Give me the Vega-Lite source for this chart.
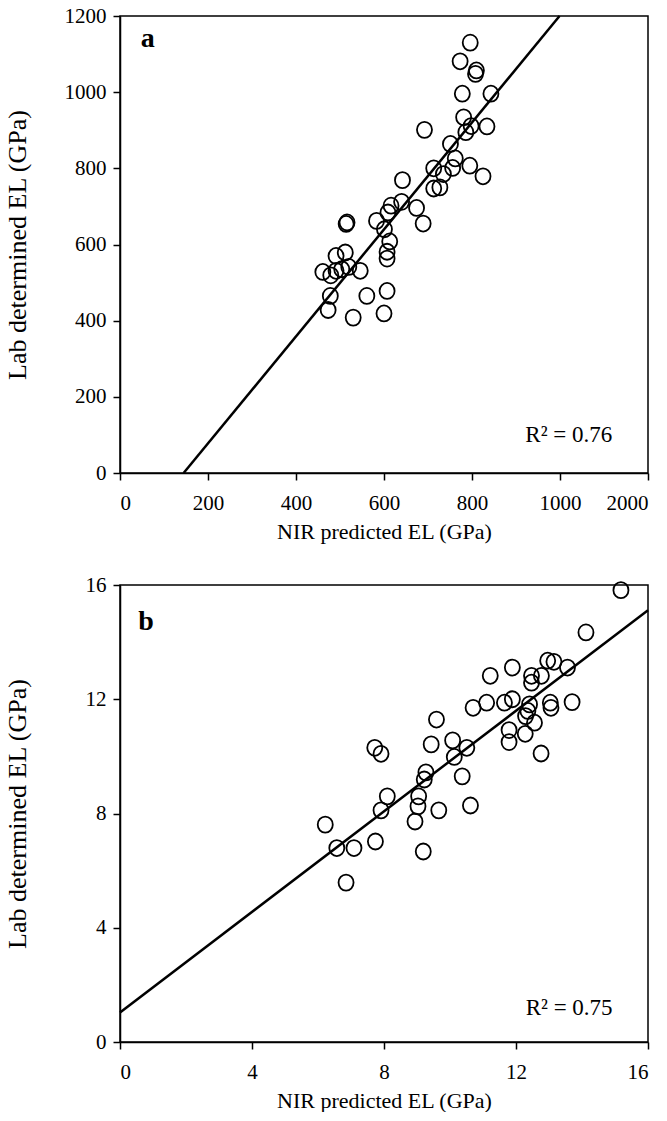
{
  "$schema": "https://vega.github.io/schema/vega-lite/v6.json",
  "padding": {"left": 3, "top": 4, "right": 0, "bottom": 0},
  "background": "white",
  "spacing": 30,
  "config": {
    "font": "Liberation Serif",
    "view": {"stroke": "black", "strokeWidth": 1.5},
    "axis": {
      "grid": false,
      "domainColor": "black", "domainWidth": 1.5,
      "tickColor": "black", "tickWidth": 1.5, "tickSize": 7,
      "labelColor": "black", "labelFont": "Liberation Serif", "labelFontSize": 21,
      "titleColor": "black", "titleFont": "Liberation Serif", "titleFontSize": 22, "titleFontWeight": "normal"
    },
    "axisX": {"labelPadding": 12, "titlePadding": 8},
    "axisY": {"labelPadding": 7, "titleX": -90, "titleFontSize": 26}
  },
  "vconcat": [
    {
      "width": 528,
      "height": 457,
      "layer": [
        {
          "data": {"values": [
            {"nir": 796, "lab": 1130}, {"nir": 773, "lab": 1081}, {"nir": 810, "lab": 1057}, {"nir": 808, "lab": 1048},
            {"nir": 778, "lab": 996}, {"nir": 843, "lab": 996}, {"nir": 781, "lab": 934}, {"nir": 798, "lab": 911},
            {"nir": 786, "lab": 895}, {"nir": 834, "lab": 910}, {"nir": 692, "lab": 901}, {"nir": 751, "lab": 864},
            {"nir": 762, "lab": 826}, {"nir": 795, "lab": 807}, {"nir": 756, "lab": 801}, {"nir": 713, "lab": 800},
            {"nir": 735, "lab": 785}, {"nir": 825, "lab": 779}, {"nir": 713, "lab": 747}, {"nir": 727, "lab": 750},
            {"nir": 642, "lab": 769}, {"nir": 640, "lab": 712}, {"nir": 616, "lab": 702}, {"nir": 609, "lab": 684},
            {"nir": 674, "lab": 696}, {"nir": 689, "lab": 655}, {"nir": 583, "lab": 662}, {"nir": 516, "lab": 658},
            {"nir": 514, "lab": 654}, {"nir": 601, "lab": 640}, {"nir": 613, "lab": 608}, {"nir": 607, "lab": 581},
            {"nir": 607, "lab": 563}, {"nir": 512, "lab": 579}, {"nir": 491, "lab": 570}, {"nir": 520, "lab": 541},
            {"nir": 546, "lab": 531}, {"nir": 461, "lab": 528}, {"nir": 479, "lab": 519}, {"nir": 491, "lab": 531},
            {"nir": 504, "lab": 535}, {"nir": 478, "lab": 465}, {"nir": 561, "lab": 465}, {"nir": 607, "lab": 478},
            {"nir": 473, "lab": 428}, {"nir": 530, "lab": 408}, {"nir": 600, "lab": 419}
          ]},
          "mark": {"type": "point", "shape": "M-0.94,0A0.94,1 0 1,1 0.94,0A0.94,1 0 1,1 -0.94,0Z", "size": 256, "filled": false, "color": "black", "strokeWidth": 1.8, "opacity": 1},
          "encoding": {
            "x": {"field": "nir", "type": "quantitative", "scale": {"domain": [0, 1200], "nice": false, "zero": false},
                  "axis": {"values": [0, 200, 400, 600, 800, 1000, 1200], "format": "d", "labelExpr": "datum.value == 1200 ? '2000' : datum.label", "title": "NIR predicted EL (GPa)"}},
            "y": {"field": "lab", "type": "quantitative", "scale": {"domain": [0, 1200], "nice": false, "zero": false},
                  "axis": {"values": [0, 200, 400, 600, 800, 1000, 1200], "format": "d", "title": "Lab determined EL (GPa)"}}
          }
        },
        {
          "data": {"values": [{"nir": 144.6, "lab": 0}, {"nir": 999, "lab": 1200}]},
          "mark": {"type": "line", "color": "black", "strokeWidth": 2.5},
          "encoding": {"x": {"field": "nir", "type": "quantitative"}, "y": {"field": "lab", "type": "quantitative"}}
        },
        {
          "data": {"values": [{"nir": 63, "lab": 1140, "label": "a"}]},
          "mark": {"type": "text", "fontSize": 28, "fontWeight": "bold", "align": "center", "baseline": "middle", "color": "black"},
          "encoding": {"x": {"field": "nir", "type": "quantitative"}, "y": {"field": "lab", "type": "quantitative"}, "text": {"field": "label"}}
        },
        {
          "data": {"values": [{"nir": 1020, "lab": 100, "label": "R² = 0.76"}]},
          "mark": {"type": "text", "fontSize": 23, "align": "center", "baseline": "middle", "color": "black"},
          "encoding": {"x": {"field": "nir", "type": "quantitative"}, "y": {"field": "lab", "type": "quantitative"}, "text": {"field": "label"}}
        }
      ]
    },
    {
      "width": 528,
      "height": 457,
      "layer": [
        {
          "data": {"values": [
            {"nir": 15.18, "lab": 15.82}, {"nir": 14.12, "lab": 14.34}, {"nir": 12.96, "lab": 13.35}, {"nir": 13.15, "lab": 13.31},
            {"nir": 13.56, "lab": 13.11}, {"nir": 11.89, "lab": 13.11}, {"nir": 11.22, "lab": 12.82}, {"nir": 12.77, "lab": 12.82},
            {"nir": 12.47, "lab": 12.82}, {"nir": 12.47, "lab": 12.58}, {"nir": 11.11, "lab": 11.88}, {"nir": 11.65, "lab": 11.88},
            {"nir": 11.89, "lab": 12.0}, {"nir": 10.7, "lab": 11.7}, {"nir": 13.04, "lab": 11.88}, {"nir": 13.06, "lab": 11.7},
            {"nir": 13.7, "lab": 11.9}, {"nir": 12.41, "lab": 11.82}, {"nir": 12.36, "lab": 11.59}, {"nir": 12.29, "lab": 11.41},
            {"nir": 12.56, "lab": 11.18}, {"nir": 11.79, "lab": 10.92}, {"nir": 11.79, "lab": 10.5}, {"nir": 12.28, "lab": 10.79},
            {"nir": 12.76, "lab": 10.1}, {"nir": 9.59, "lab": 11.29}, {"nir": 9.43, "lab": 10.42}, {"nir": 10.08, "lab": 10.56},
            {"nir": 10.13, "lab": 9.98}, {"nir": 10.51, "lab": 10.3}, {"nir": 10.37, "lab": 9.3}, {"nir": 9.27, "lab": 9.44},
            {"nir": 9.22, "lab": 9.19}, {"nir": 7.72, "lab": 10.3}, {"nir": 7.91, "lab": 10.09}, {"nir": 8.1, "lab": 8.6},
            {"nir": 7.91, "lab": 8.11}, {"nir": 9.05, "lab": 8.6}, {"nir": 9.03, "lab": 8.25}, {"nir": 8.94, "lab": 7.72},
            {"nir": 9.66, "lab": 8.11}, {"nir": 10.62, "lab": 8.28}, {"nir": 6.22, "lab": 7.61}, {"nir": 6.57, "lab": 6.79},
            {"nir": 7.09, "lab": 6.79}, {"nir": 7.74, "lab": 7.02}, {"nir": 9.19, "lab": 6.67}, {"nir": 6.85, "lab": 5.58}
          ]},
          "mark": {"type": "point", "shape": "M-0.94,0A0.94,1 0 1,1 0.94,0A0.94,1 0 1,1 -0.94,0Z", "size": 256, "filled": false, "color": "black", "strokeWidth": 1.8, "opacity": 1},
          "encoding": {
            "x": {"field": "nir", "type": "quantitative", "scale": {"domain": [0, 16], "nice": false, "zero": false},
                  "axis": {"values": [0, 4, 8, 12, 16], "title": "NIR predicted EL (GPa)"}},
            "y": {"field": "lab", "type": "quantitative", "scale": {"domain": [0, 16], "nice": false, "zero": false},
                  "axis": {"values": [0, 4, 8, 12, 16], "title": "Lab determined EL (GPa)"}}
          }
        },
        {
          "data": {"values": [{"nir": 0, "lab": 1.03}, {"nir": 16, "lab": 15.12}]},
          "mark": {"type": "line", "color": "black", "strokeWidth": 2.5},
          "encoding": {"x": {"field": "nir", "type": "quantitative"}, "y": {"field": "lab", "type": "quantitative"}}
        },
        {
          "data": {"values": [{"nir": 0.79, "lab": 14.69, "label": "b"}]},
          "mark": {"type": "text", "fontSize": 28, "fontWeight": "bold", "align": "center", "baseline": "middle", "color": "black"},
          "encoding": {"x": {"field": "nir", "type": "quantitative"}, "y": {"field": "lab", "type": "quantitative"}, "text": {"field": "label"}}
        },
        {
          "data": {"values": [{"nir": 13.61, "lab": 1.2, "label": "R² = 0.75"}]},
          "mark": {"type": "text", "fontSize": 23, "align": "center", "baseline": "middle", "color": "black"},
          "encoding": {"x": {"field": "nir", "type": "quantitative"}, "y": {"field": "lab", "type": "quantitative"}, "text": {"field": "label"}}
        }
      ]
    }
  ]
}
